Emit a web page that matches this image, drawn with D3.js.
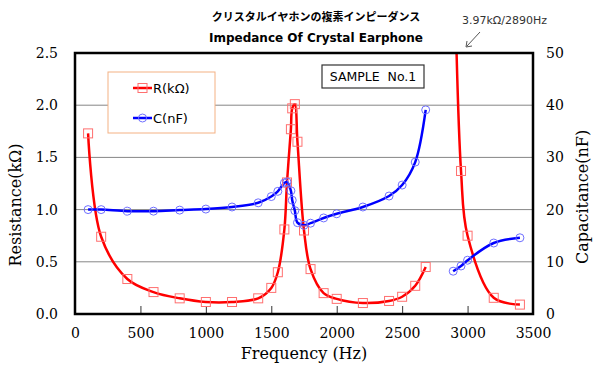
<!DOCTYPE html>
<html>
<head>
<meta charset="utf-8">
<script src="https://cdn.jsdelivr.net/npm/d3@7"></script>
<style>
  body { margin: 0; background: #fff; }
  svg text { font-family: "DejaVu Sans", sans-serif; }
</style>
</head>
<body>
<div id="chart"></div>
<script>
// Frequencies (Hz), first branch (below 2700 Hz)
var freq1 = [100, 200, 400, 600, 800, 1000, 1200, 1400, 1500, 1550, 1600, 1620, 1650,
             1660, 1680, 1700, 1750, 1800, 1900, 2000, 2200, 2400, 2500, 2600, 2680];
// Resistance (kOhm), first branch
var res1 = [1.73, 0.74, 0.335, 0.21, 0.15, 0.115, 0.115, 0.15, 0.25, 0.40, 0.81, 1.26, 1.77,
            1.97, 2.01, 1.65, 0.80, 0.43, 0.20, 0.145, 0.105, 0.125, 0.165, 0.27, 0.45];
// Capacitance (nF), first branch
var cap1 = [20.0, 20.0, 19.7, 19.7, 19.9, 20.1, 20.5, 21.3, 22.5, 23.5, 25.1, 25.3, 23.6,
            21.8, 19.8, 17.5, 17.0, 17.4, 18.4, 19.2, 20.5, 22.6, 24.7, 29.1, 39.1];

// second branch (above 2890 Hz)
var freq2 = [2890, 2950, 3000, 3200, 3400];
var res2 = [3.97, 1.37, 0.75, 0.155, 0.09];
var cap2 = [8.2, 9.2, 10.3, 13.6, 14.6];

var xTicks = [0, 500, 1000, 1500, 2000, 2500, 3000, 3500];
var yLeftTicks = [0, 0.5, 1.0, 1.5, 2.0, 2.5];
var yRightTicks = [0, 10, 20, 30, 40, 50];

var width = 600, height = 370;
var margin = {top: 53, right: 67, bottom: 56, left: 75};
var plotW = width - margin.left - margin.right,
    plotH = height - margin.top - margin.bottom;

var svg = d3.select("#chart").append("svg")
    .attr("width", width)
    .attr("height", height);

var x = d3.scaleLinear().domain([0, 3500]).range([margin.left, margin.left + plotW]);
var yR = d3.scaleLinear().domain([0, 2.5]).range([margin.top + plotH, margin.top]);
var yC = d3.scaleLinear().domain([0, 50]).range([margin.top + plotH, margin.top]);

svg.append("defs").append("clipPath").attr("id", "plot-clip")
  .append("rect")
    .attr("x", margin.left).attr("y", margin.top)
    .attr("width", plotW).attr("height", plotH);

// gridlines
svg.append("g")
  .selectAll("line")
  .data(yLeftTicks.slice(1, -1))
  .enter().append("line")
    .attr("x1", margin.left).attr("x2", margin.left + plotW)
    .attr("y1", function(d) { return yR(d); })
    .attr("y2", function(d) { return yR(d); })
    .attr("stroke", "#868686")
    .attr("stroke-width", 1);

// x axis (ticks inside)
var xAxis = d3.axisBottom(x).tickValues(xTicks).tickSize(-8).tickFormat(d3.format("d"));
var gx = svg.append("g")
    .attr("transform", "translate(0," + (margin.top + plotH) + ")")
    .call(xAxis);
gx.select(".domain").remove();
gx.selectAll(".tick line").attr("stroke", "#333");
gx.selectAll(".tick text")
    .attr("y", 14)
    .style("font-family", "DejaVu Serif, serif")
    .style("font-size", "14px")
    .attr("fill", "#000");

// left axis
var yAxisL = d3.axisLeft(yR).tickValues(yLeftTicks).tickSize(0).tickFormat(d3.format(".1f"));
var gyl = svg.append("g")
    .attr("transform", "translate(" + margin.left + ",0)")
    .call(yAxisL);
gyl.select(".domain").remove();
gyl.selectAll(".tick text")
    .attr("x", -17)
    .style("font-family", "DejaVu Serif, serif")
    .style("font-size", "14px")
    .attr("fill", "#000");

// right axis
var yAxisR = d3.axisRight(yC).tickValues(yRightTicks).tickSize(0);
var gyr = svg.append("g")
    .attr("transform", "translate(" + (margin.left + plotW) + ",0)")
    .call(yAxisR);
gyr.select(".domain").remove();
gyr.selectAll(".tick text")
    .attr("x", 13)
    .style("font-family", "DejaVu Serif, serif")
    .style("font-size", "14px")
    .attr("fill", "#000");

// series
var plot = svg.append("g").attr("clip-path", "url(#plot-clip)");

function zip(fs, vs) {
    return fs.map(function(f, i) { return {f: f, v: vs[i]}; });
}

var lineR = d3.line()
    .x(function(d) { return x(d.f); })
    .y(function(d) { return yR(d.v); })
    .curve(d3.curveCatmullRom.alpha(0.5));
var lineC = d3.line()
    .x(function(d) { return x(d.f); })
    .y(function(d) { return yC(d.v); })
    .curve(d3.curveCatmullRom.alpha(0.5));

var rSets = [zip(freq1, res1), zip(freq2, res2)];
var cSets = [zip(freq1, cap1), zip(freq2, cap2)];

rSets.forEach(function(pts) {
    plot.append("path").datum(pts)
        .attr("d", lineR)
        .attr("fill", "none")
        .attr("stroke", "#ff0000")
        .attr("stroke-width", 2.5);
});
cSets.forEach(function(pts) {
    plot.append("path").datum(pts)
        .attr("d", lineC)
        .attr("fill", "none")
        .attr("stroke", "#0000ff")
        .attr("stroke-width", 2.5);
});

rSets.forEach(function(pts) {
    plot.append("g").selectAll("rect")
        .data(pts)
        .enter().append("rect")
          .attr("x", function(d) { return x(d.f) - 4.5; })
          .attr("y", function(d) { return yR(d.v) - 4.5; })
          .attr("width", 9).attr("height", 9)
          .attr("fill", "none")
          .attr("stroke", "#ff6f6f")
          .attr("stroke-width", 1);
});
cSets.forEach(function(pts) {
    plot.append("g").selectAll("circle")
        .data(pts)
        .enter().append("circle")
          .attr("cx", function(d) { return x(d.f); })
          .attr("cy", function(d) { return yC(d.v); })
          .attr("r", 4)
          .attr("fill", "none")
          .attr("stroke", "#6f6fff")
          .attr("stroke-width", 1);
});

// plot frame
svg.append("rect")
    .attr("x", margin.left).attr("y", margin.top)
    .attr("width", plotW).attr("height", plotH)
    .attr("fill", "none")
    .attr("stroke", "#000")
    .attr("stroke-width", 2.5);

// axis titles
svg.append("text")
    .attr("x", margin.left + plotW / 2).attr("y", 359)
    .attr("text-anchor", "middle")
    .style("font-family", "DejaVu Serif, serif")
    .style("font-size", "16px")
    .text("Frequency (Hz)");

svg.append("text")
    .attr("transform", "translate(21,205) rotate(-90)")
    .attr("text-anchor", "middle")
    .style("font-family", "DejaVu Serif, serif")
    .style("font-size", "16px")
    .text("Resistance(kΩ)");

svg.append("text")
    .attr("transform", "translate(588,197) rotate(-90)")
    .attr("text-anchor", "middle")
    .style("font-family", "DejaVu Serif, serif")
    .style("font-size", "16px")
    .text("Capacitance(nF)");

// titles
svg.append("text")
    .attr("x", 316).attr("y", 21)
    .attr("text-anchor", "middle")
    .style("font-family", "Noto Sans CJK JP, sans-serif")
    .style("font-weight", "bold")
    .style("font-size", "11px")
    .text("クリスタルイヤホンの複素インピーダンス");

svg.append("text")
    .attr("x", 316).attr("y", 42)
    .attr("text-anchor", "middle")
    .style("font-weight", "bold")
    .style("font-size", "12px")
    .text("Impedance Of Crystal Earphone");

// off-scale annotation
svg.append("text")
    .attr("x", 462).attr("y", 24)
    .style("font-size", "11px")
    .attr("fill", "#333")
    .text("3.97kΩ/2890Hz");

svg.append("line")
    .attr("x1", 480).attr("y1", 32)
    .attr("x2", 467).attr("y2", 46)
    .attr("stroke", "#555")
    .attr("stroke-width", 1);
svg.append("path")
    .attr("d", "M466,47 L467,41 M466,47 L472,46")
    .attr("stroke", "#555")
    .attr("fill", "none")
    .attr("stroke-width", 1);

// legend
var legend = svg.append("g");
legend.append("rect")
    .attr("x", 108).attr("y", 72)
    .attr("width", 107).attr("height", 61)
    .attr("fill", "#fff")
    .attr("stroke", "#f4b183")
    .attr("stroke-width", 1);

var legItems = [
    {label: "R(kΩ)", color: "#ff0000", mark: "#ff6f6f", shape: "square", y: 88},
    {label: "C(nF)", color: "#0000ff", mark: "#6f6fff", shape: "circle", y: 118}
];
legItems.forEach(function(it) {
    legend.append("line")
        .attr("x1", 133).attr("x2", 152)
        .attr("y1", it.y).attr("y2", it.y)
        .attr("stroke", it.color)
        .attr("stroke-width", 2.5);
    if (it.shape == "square") {
        legend.append("rect")
            .attr("x", 138).attr("y", it.y - 4.5)
            .attr("width", 9).attr("height", 9)
            .attr("fill", "none").attr("stroke", it.mark);
    } else {
        legend.append("circle")
            .attr("cx", 142.5).attr("cy", it.y).attr("r", 4)
            .attr("fill", "none").attr("stroke", it.mark);
    }
    legend.append("text")
        .attr("x", 153).attr("y", it.y + 5)
        .style("font-size", "13px")
        .text(it.label);
});

// sample box
svg.append("rect")
    .attr("x", 322).attr("y", 65)
    .attr("width", 102).attr("height", 23)
    .attr("fill", "#fff")
    .attr("stroke", "#333")
    .attr("stroke-width", 1.2);
svg.append("text")
    .attr("x", 373).attr("y", 81)
    .attr("text-anchor", "middle")
    .style("font-size", "12.5px")
    .style("white-space", "pre")
    .text("SAMPLE  No.1");
</script>
</body>
</html>
